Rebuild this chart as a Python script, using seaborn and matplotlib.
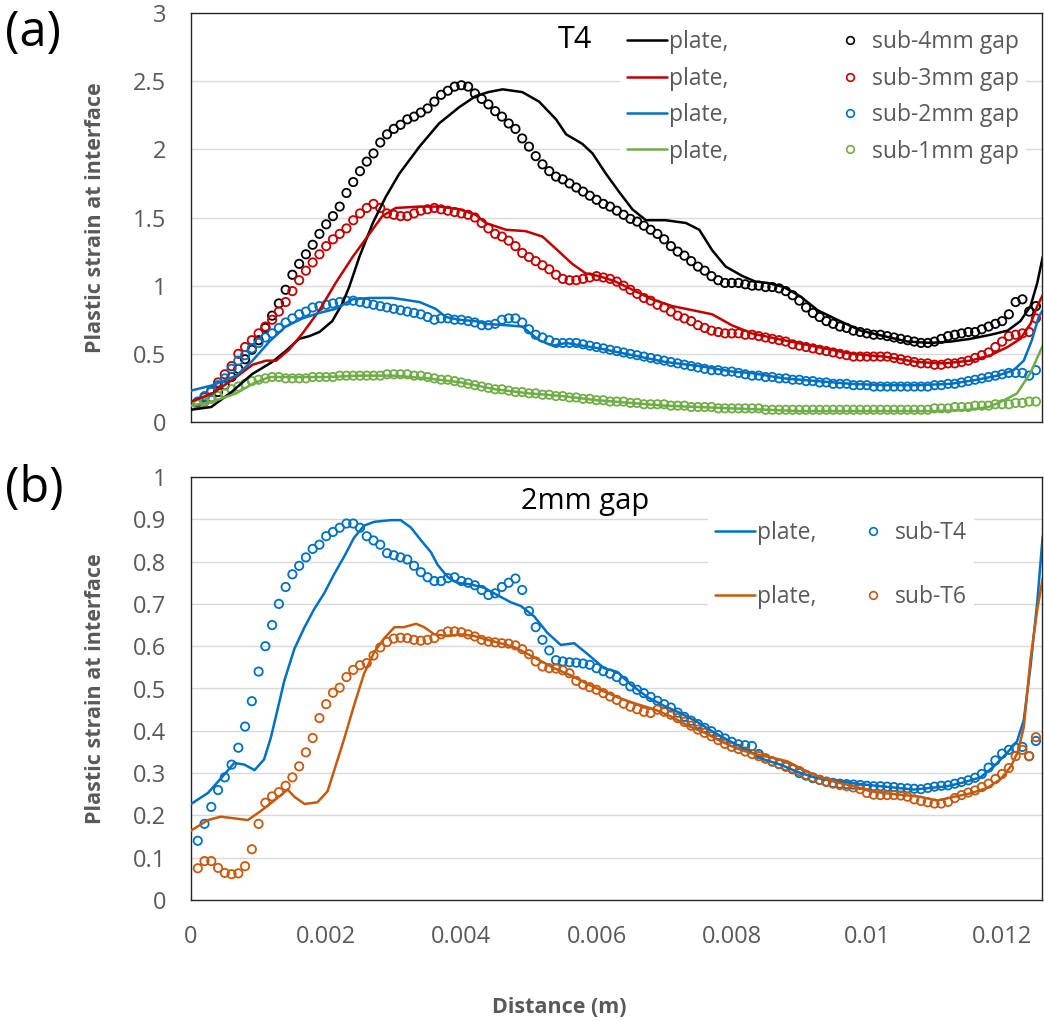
import matplotlib
matplotlib.use("Agg")
import matplotlib.pyplot as plt
import seaborn as sns
from matplotlib.lines import Line2D
from matplotlib.ticker import FuncFormatter, MultipleLocator

# ---------------- data (distances in mm, converted to m below) ----------------
marker_x_mm = [
    0.1, 0.2, 0.3, 0.4, 0.5, 0.6, 0.7, 0.8, 0.9, 1.0,
    1.1, 1.2, 1.3, 1.4, 1.5, 1.6, 1.7, 1.8, 1.9, 2.0,
    2.1, 2.2, 2.3, 2.4, 2.5, 2.6, 2.7, 2.8, 2.9, 3.0,
    3.1, 3.2, 3.3, 3.4, 3.5, 3.6, 3.7, 3.8, 3.9, 4.0,
    4.1, 4.2, 4.3, 4.4, 4.5, 4.6, 4.7, 4.8, 4.9, 5.0,
    5.1, 5.2, 5.3, 5.4, 5.5, 5.6, 5.7, 5.8, 5.9, 6.0,
    6.1, 6.2, 6.3, 6.4, 6.5, 6.6, 6.7, 6.8, 6.9, 7.0,
    7.1, 7.2, 7.3, 7.4, 7.5, 7.6, 7.7, 7.8, 7.9, 8.0,
    8.1, 8.2, 8.3, 8.4, 8.5, 8.6, 8.7, 8.8, 8.9, 9.0,
    9.1, 9.2, 9.3, 9.4, 9.5, 9.6, 9.7, 9.8, 9.9, 10.0,
    10.1, 10.2, 10.3, 10.4, 10.5, 10.6, 10.7, 10.8, 10.9, 11.0,
    11.1, 11.2, 11.3, 11.4, 11.5, 11.6, 11.7, 11.8, 11.9, 12.0,
    12.1, 12.2, 12.3, 12.4, 12.5,
]

# Panel (a) - T4, substrate markers
sub_4mm = [
    0.13, 0.15, 0.18, 0.22, 0.27, 0.33, 0.39, 0.46, 0.53, 0.60,
    0.69, 0.78, 0.87, 0.97, 1.08, 1.16, 1.23, 1.30, 1.38, 1.45,
    1.51, 1.58, 1.68, 1.76, 1.84, 1.91, 1.97, 2.05, 2.11, 2.15,
    2.18, 2.22, 2.24, 2.27, 2.30, 2.35, 2.40, 2.43, 2.46, 2.47,
    2.46, 2.41, 2.37, 2.33, 2.28, 2.24, 2.19, 2.15, 2.08, 2.02,
    1.95, 1.89, 1.84, 1.80, 1.78, 1.75, 1.72, 1.69, 1.66, 1.63,
    1.60, 1.58, 1.55, 1.52, 1.49, 1.47, 1.44, 1.41, 1.38, 1.34,
    1.29, 1.25, 1.22, 1.18, 1.14, 1.11, 1.07, 1.04, 1.02, 1.02,
    1.02, 1.01, 1.00, 1.00, 0.99, 0.99, 0.98, 0.96, 0.93, 0.89,
    0.84, 0.80, 0.77, 0.74, 0.72, 0.70, 0.69, 0.67, 0.66, 0.65,
    0.64, 0.64, 0.63, 0.62, 0.61, 0.60, 0.59, 0.58, 0.58, 0.59,
    0.61, 0.63, 0.64, 0.65, 0.66, 0.66, 0.68, 0.70, 0.72, 0.74,
    0.79, 0.88, 0.90, 0.81, 0.85,
]
sub_3mm = [
    0.14, 0.18, 0.23, 0.29, 0.35, 0.41, 0.50, 0.55, 0.60, 0.65,
    0.70, 0.75, 0.81, 0.88, 0.96, 1.04, 1.11, 1.17, 1.23, 1.29,
    1.34, 1.38, 1.42, 1.48, 1.53, 1.57, 1.60, 1.57, 1.53, 1.52,
    1.51, 1.51, 1.53, 1.55, 1.56, 1.57, 1.56, 1.55, 1.54, 1.53,
    1.52, 1.50, 1.46, 1.42, 1.38, 1.36, 1.33, 1.29, 1.24, 1.21,
    1.18, 1.15, 1.12, 1.08, 1.05, 1.04, 1.04, 1.05, 1.06, 1.07,
    1.06, 1.05, 1.03, 1.00, 0.97, 0.94, 0.91, 0.89, 0.86, 0.84,
    0.81, 0.78, 0.76, 0.74, 0.71, 0.69, 0.67, 0.66, 0.65, 0.65,
    0.65, 0.64, 0.64, 0.63, 0.62, 0.61, 0.60, 0.59, 0.57, 0.56,
    0.55, 0.54, 0.53, 0.52, 0.51, 0.50, 0.49, 0.48, 0.48, 0.48,
    0.48, 0.48, 0.48, 0.47, 0.46, 0.45, 0.44, 0.43, 0.43, 0.42,
    0.42, 0.43, 0.43, 0.44, 0.45, 0.47, 0.49, 0.51, 0.55, 0.59,
    0.63, 0.64, 0.65, 0.66, 0.76,
]
sub_2mm = [
    0.15, 0.19, 0.22, 0.27, 0.32, 0.39, 0.45, 0.49, 0.54, 0.58,
    0.62, 0.65, 0.69, 0.73, 0.76, 0.79, 0.81, 0.84, 0.85, 0.86,
    0.87, 0.88, 0.89, 0.89, 0.88, 0.87, 0.86, 0.85, 0.84, 0.83,
    0.82, 0.81, 0.80, 0.79, 0.77, 0.75, 0.76, 0.76, 0.75, 0.75,
    0.74, 0.73, 0.71, 0.71, 0.72, 0.75, 0.76, 0.76, 0.73, 0.68,
    0.64, 0.62, 0.60, 0.58, 0.58, 0.58, 0.58, 0.57, 0.56, 0.55,
    0.54, 0.53, 0.52, 0.51, 0.50, 0.49, 0.48, 0.47, 0.46, 0.45,
    0.44, 0.43, 0.42, 0.41, 0.40, 0.39, 0.38, 0.38, 0.37, 0.37,
    0.36, 0.35, 0.34, 0.34, 0.33, 0.33, 0.32, 0.32, 0.31, 0.31,
    0.30, 0.30, 0.29, 0.29, 0.28, 0.28, 0.28, 0.27, 0.27, 0.27,
    0.26, 0.26, 0.26, 0.26, 0.26, 0.26, 0.26, 0.26, 0.26, 0.27,
    0.27, 0.28, 0.28, 0.29, 0.30, 0.31, 0.32, 0.33, 0.34, 0.35,
    0.36, 0.36, 0.36, 0.34, 0.38,
]
sub_1mm = [
    0.13, 0.15, 0.17, 0.19, 0.21, 0.24, 0.26, 0.28, 0.30, 0.31,
    0.32, 0.33, 0.33, 0.32, 0.32, 0.32, 0.32, 0.33, 0.33, 0.33,
    0.33, 0.34, 0.34, 0.34, 0.34, 0.34, 0.34, 0.34, 0.35, 0.35,
    0.35, 0.35, 0.34, 0.34, 0.33, 0.32, 0.31, 0.31, 0.30, 0.29,
    0.28, 0.27, 0.26, 0.25, 0.24, 0.24, 0.23, 0.22, 0.22, 0.21,
    0.21, 0.20, 0.20, 0.19, 0.19, 0.18, 0.18, 0.17, 0.17, 0.16,
    0.16, 0.15, 0.15, 0.15, 0.14, 0.14, 0.13, 0.13, 0.13, 0.13,
    0.12, 0.12, 0.12, 0.11, 0.11, 0.11, 0.11, 0.10, 0.10, 0.10,
    0.10, 0.10, 0.10, 0.10, 0.09, 0.09, 0.09, 0.09, 0.09, 0.09,
    0.09, 0.09, 0.09, 0.09, 0.09, 0.09, 0.09, 0.09, 0.09, 0.09,
    0.09, 0.09, 0.09, 0.09, 0.09, 0.09, 0.09, 0.09, 0.09, 0.10,
    0.10, 0.10, 0.11, 0.11, 0.11, 0.12, 0.12, 0.12, 0.13, 0.13,
    0.13, 0.14, 0.14, 0.15, 0.15,
]

# Panel (a) - plate lines
plate4_x = [0, 0.3, 0.6, 0.9, 1.2, 1.4, 1.6, 1.75, 1.9, 2.09,
            2.24, 2.34, 2.49, 2.69, 2.88, 3.08, 3.38, 3.67, 3.97, 4.21,
            4.4, 4.61, 4.9, 5.15, 5.4, 5.55, 5.79, 5.94, 6.14, 6.33,
            6.53, 6.73, 7.02, 7.32, 7.52, 7.71, 7.91, 8.16, 8.35, 8.53,
            8.77, 9.02, 9.27, 9.56, 9.91, 10.25, 10.6, 10.94, 11.24, 11.53,
            11.83, 12.08, 12.27, 12.42, 12.52, 12.6]
plate4_y = [0.09, 0.11, 0.22, 0.35, 0.44, 0.52, 0.61, 0.63, 0.66, 0.74,
            0.87, 0.99, 1.21, 1.46, 1.65, 1.82, 2.02, 2.19, 2.31, 2.39,
            2.42, 2.44, 2.42, 2.35, 2.22, 2.11, 2.04, 1.97, 1.82, 1.69,
            1.56, 1.48, 1.48, 1.46, 1.41, 1.26, 1.14, 1.07, 1.03, 1.02,
            0.99, 0.92, 0.82, 0.75, 0.67, 0.63, 0.59, 0.58, 0.59, 0.61,
            0.64, 0.67, 0.74, 0.85, 1.02, 1.21]
plate3_x = [0, 0.32, 0.67, 0.91, 1.11, 1.26, 1.45, 1.65, 1.9, 2.14,
            2.39, 2.64, 2.83, 3.03, 3.38, 3.67, 3.97, 4.21, 4.36, 4.66,
            4.95, 5.2, 5.4, 5.64, 5.84, 6.04, 6.28, 6.53, 6.82, 7.12,
            7.42, 7.71, 8.0, 8.3, 8.77, 9.27, 9.77, 10.25, 10.74, 11.14,
            11.53, 11.83, 12.08, 12.27, 12.42, 12.52, 12.6]
plate3_y = [0.15, 0.21, 0.33, 0.42, 0.45, 0.45, 0.53, 0.65, 0.82, 1.02,
            1.21, 1.38, 1.51, 1.57, 1.58, 1.58, 1.56, 1.52, 1.46, 1.41,
            1.40, 1.36, 1.27, 1.16, 1.09, 1.07, 1.03, 0.97, 0.90, 0.85,
            0.82, 0.79, 0.71, 0.65, 0.60, 0.55, 0.50, 0.48, 0.44, 0.43,
            0.45, 0.49, 0.55, 0.61, 0.72, 0.85, 0.93]
plate2_x = [0, 0.32, 0.67, 0.91, 1.16, 1.4, 1.65, 1.9, 2.14, 2.39,
            2.64, 2.98, 3.38, 3.62, 3.77, 3.97, 4.21, 4.36, 4.66, 4.9,
            5.15, 5.35, 5.55, 5.79, 6.04, 6.53, 7.02, 7.52, 8.01, 8.28,
            8.77, 9.27, 9.77, 10.25, 10.74, 11.24, 11.63, 11.93, 12.17, 12.32,
            12.44, 12.54, 12.6]
plate2_y = [0.23, 0.27, 0.34, 0.45, 0.59, 0.70, 0.76, 0.80, 0.83, 0.90,
            0.91, 0.91, 0.88, 0.83, 0.77, 0.75, 0.74, 0.72, 0.71, 0.70,
            0.60, 0.56, 0.58, 0.56, 0.54, 0.49, 0.44, 0.41, 0.37, 0.36,
            0.32, 0.30, 0.28, 0.27, 0.27, 0.28, 0.31, 0.34, 0.38, 0.45,
            0.60, 0.77, 0.82]
plate1_x = [0, 0.32, 0.67, 0.91, 1.16, 1.4, 2.0, 2.5, 3.0, 3.5,
            4.0, 4.5, 5.0, 5.5, 6.0, 6.5, 7.0, 7.5, 8.0, 9.0,
            10.0, 11.0, 11.5, 11.8, 12.03, 12.22, 12.42, 12.6]
plate1_y = [0.12, 0.15, 0.21, 0.28, 0.33, 0.33, 0.33, 0.34, 0.34, 0.32,
            0.29, 0.24, 0.21, 0.19, 0.16, 0.14, 0.12, 0.11, 0.10, 0.08,
            0.08, 0.08, 0.09, 0.11, 0.16, 0.21, 0.36, 0.56]

# Panel (b) - 2mm gap, substrate markers
sub_T4 = [
    0.14, 0.18, 0.22, 0.26, 0.29, 0.32, 0.36, 0.41, 0.47, 0.54,
    0.60, 0.65, 0.70, 0.74, 0.77, 0.79, 0.81, 0.83, 0.84, 0.86,
    0.87, 0.88, 0.89, 0.89, 0.88, 0.86, 0.85, 0.84, 0.82, 0.815,
    0.81, 0.805, 0.79, 0.775, 0.763, 0.754, 0.754, 0.761, 0.763, 0.754,
    0.75, 0.744, 0.733, 0.721, 0.725, 0.74, 0.75, 0.76, 0.733, 0.683,
    0.645, 0.615, 0.59, 0.567, 0.564, 0.562, 0.561, 0.559, 0.556, 0.548,
    0.541, 0.535, 0.527, 0.518, 0.505, 0.497, 0.489, 0.48, 0.471, 0.463,
    0.455, 0.443, 0.433, 0.424, 0.416, 0.407, 0.399, 0.39, 0.382, 0.374,
    0.368, 0.366, 0.364, 0.345, 0.335, 0.327, 0.321, 0.315, 0.309, 0.30,
    0.294, 0.288, 0.284, 0.28, 0.277, 0.275, 0.274, 0.273, 0.272, 0.27,
    0.269, 0.269, 0.268, 0.267, 0.265, 0.264, 0.263, 0.262, 0.265, 0.268,
    0.27, 0.271, 0.275, 0.279, 0.283, 0.289, 0.298, 0.313, 0.33, 0.346,
    0.355, 0.36, 0.362, 0.34, 0.376,
]
sub_T6 = [
    0.075, 0.092, 0.092, 0.076, 0.064, 0.061, 0.063, 0.08, 0.12, 0.18,
    0.23, 0.245, 0.255, 0.27, 0.29, 0.316, 0.349, 0.383, 0.43, 0.463,
    0.49, 0.502, 0.527, 0.544, 0.555, 0.56, 0.578, 0.597, 0.61, 0.618,
    0.62, 0.619, 0.615, 0.613, 0.615, 0.619, 0.628, 0.635, 0.635, 0.633,
    0.628, 0.623, 0.615, 0.611, 0.609, 0.607, 0.606, 0.602, 0.593, 0.581,
    0.564, 0.552, 0.548, 0.547, 0.543, 0.536, 0.518, 0.509, 0.503, 0.497,
    0.489, 0.481, 0.473, 0.464, 0.457, 0.451, 0.445, 0.442, 0.45, 0.445,
    0.438, 0.43, 0.421, 0.412, 0.403, 0.395, 0.387, 0.378, 0.369, 0.362,
    0.357, 0.351, 0.345, 0.34, 0.334, 0.328, 0.322, 0.317, 0.311, 0.305,
    0.296, 0.29, 0.284, 0.279, 0.275, 0.272, 0.269, 0.266, 0.262, 0.253,
    0.249, 0.248, 0.248, 0.248, 0.247, 0.244, 0.238, 0.234, 0.231, 0.228,
    0.228, 0.232, 0.241, 0.248, 0.254, 0.259, 0.267, 0.275, 0.286, 0.298,
    0.312, 0.34, 0.355, 0.34, 0.385,
]

# Panel (b) - plate lines
plateT4_x = [0, 0.25, 0.44, 0.64, 0.79, 0.94, 1.08, 1.18, 1.28, 1.38,
             1.53, 1.68, 1.82, 1.97, 2.12, 2.27, 2.41, 2.56, 2.71, 2.96,
             3.1, 3.25, 3.4, 3.55, 3.65, 3.8, 3.94, 4.14, 4.34, 4.53,
             4.73, 4.88, 5.08, 5.27, 5.47, 5.67, 5.87, 6.11, 6.31, 6.5,
             6.75, 7.0, 7.24, 7.49, 7.74, 7.98, 8.23, 8.48, 8.72, 8.97,
             9.22, 9.46, 9.71, 9.96, 10.2, 10.45, 10.69, 10.94, 11.19, 11.43,
             11.68, 11.88, 12.08, 12.22, 12.32, 12.42, 12.52, 12.6]
plateT4_y = [0.227, 0.253, 0.287, 0.324, 0.32, 0.307, 0.332, 0.383, 0.45, 0.518,
             0.594, 0.645, 0.687, 0.725, 0.771, 0.813, 0.856, 0.885, 0.894, 0.898,
             0.898, 0.881, 0.851, 0.822, 0.792, 0.763, 0.75, 0.746, 0.738, 0.721,
             0.704, 0.695, 0.67, 0.632, 0.603, 0.607, 0.581, 0.548, 0.539, 0.51,
             0.48, 0.459, 0.442, 0.421, 0.396, 0.375, 0.354, 0.332, 0.32, 0.303,
             0.29, 0.282, 0.278, 0.273, 0.269, 0.265, 0.261, 0.265, 0.269, 0.278,
             0.29, 0.316, 0.349, 0.375, 0.425, 0.552, 0.704, 0.86]
plateT6_x = [0, 0.25, 0.44, 0.64, 0.84, 1.03, 1.23, 1.43, 1.53, 1.68,
             1.87, 2.02, 2.12, 2.27, 2.41, 2.56, 2.71, 2.86, 3.01, 3.15,
             3.33, 3.45, 3.6, 3.8, 3.99, 4.19, 4.39, 4.58, 4.78, 4.88,
             5.13, 5.37, 5.62, 5.87, 6.11, 6.36, 6.6, 6.85, 7.1, 7.34,
             7.59, 7.84, 8.08, 8.33, 8.58, 8.82, 9.07, 9.31, 9.56, 9.81,
             10.05, 10.3, 10.55, 10.79, 11.04, 11.29, 11.53, 11.78, 11.98, 12.13,
             12.23, 12.32, 12.42, 12.52, 12.6]
plateT6_y = [0.164, 0.189, 0.197, 0.193, 0.189, 0.21, 0.235, 0.261, 0.244, 0.227,
             0.231, 0.257, 0.307, 0.383, 0.459, 0.535, 0.586, 0.619, 0.645, 0.645,
             0.653, 0.645, 0.628, 0.624, 0.628, 0.624, 0.615, 0.607, 0.598, 0.59,
             0.569, 0.548, 0.531, 0.51, 0.493, 0.476, 0.463, 0.451, 0.434, 0.413,
             0.396, 0.375, 0.358, 0.345, 0.337, 0.328, 0.307, 0.29, 0.278, 0.269,
             0.257, 0.252, 0.248, 0.244, 0.235, 0.244, 0.252, 0.265, 0.286, 0.316,
             0.349, 0.408, 0.569, 0.687, 0.76]

labels_a_line = ["plate,", "plate,", "plate,", "plate,"]
labels_a_mark = ["sub-4mm gap", "sub-3mm gap", "sub-2mm gap", "sub-1mm gap"]
labels_b_line = ["plate,", "plate,"]
labels_b_mark = ["sub-T4", "sub-T6"]
x_ticks_b = [0, 0.002, 0.004, 0.006, 0.008, 0.01, 0.012]

# ---------------- style ----------------
BLACK, RED, BLUE, GREEN, ORANGE = "#000000", "#C00000", "#0070C0", "#70AD47", "#C55A11"
GRAY = "#595959"
FONT = ["Open Sans", "DejaVu Sans"]

sns.set_theme(style="white")
plt.rcParams["font.family"] = FONT

W, H = 1044, 1021
fig = plt.figure(figsize=(W / 100, H / 100), dpi=100)

def frac_axes(left, top, right, bottom):
    return fig.add_axes([left / W, 1 - bottom / H, (right - left) / W, (bottom - top) / H])

ax_a = frac_axes(191, 13, 1042, 422)
ax_b = frac_axes(191, 477, 1042, 900)

mx = [v * 1e-3 for v in marker_x_mm]
LW = 1.8
MS = 36
FS = 17

def draw_markers(ax, ys, color):
    sns.scatterplot(x=mx, y=ys, ax=ax, marker="o", s=MS, color=color,
                    facecolor="none", edgecolor=color, linewidth=1.3, zorder=3)

def draw_line(ax, xs, ys, color):
    sns.lineplot(x=[v * 1e-3 for v in xs], y=ys, ax=ax, color=color, linewidth=LW,
                 sort=False, estimator=None, zorder=4)

# Panel (a)
for ys, c in [(sub_4mm, BLACK), (sub_3mm, RED), (sub_2mm, BLUE), (sub_1mm, GREEN)]:
    draw_markers(ax_a, ys, c)
for xs, ys, c in [(plate4_x, plate4_y, BLACK), (plate3_x, plate3_y, RED),
                  (plate2_x, plate2_y, BLUE), (plate1_x, plate1_y, GREEN)]:
    draw_line(ax_a, xs, ys, c)

# Panel (b)
for ys, c in [(sub_T4, BLUE), (sub_T6, ORANGE)]:
    draw_markers(ax_b, ys, c)
for xs, ys, c in [(plateT4_x, plateT4_y, BLUE), (plateT6_x, plateT6_y, ORANGE)]:
    draw_line(ax_b, xs, ys, c)

fmt = FuncFormatter(lambda v, p: f"{v:g}")
for ax, ymax, ystep in [(ax_a, 3, 0.5), (ax_b, 1, 0.1)]:
    ax.set_xlim(0, 0.01259)
    ax.set_ylim(0, ymax)
    ax.xaxis.set_major_locator(MultipleLocator(0.002))
    ax.yaxis.set_major_locator(MultipleLocator(ystep))
    ax.xaxis.set_major_formatter(fmt)
    ax.yaxis.set_major_formatter(fmt)
    ax.set_axisbelow(True)
    ax.yaxis.grid(True, color="#d9d9d9", linewidth=1.0)
    ax.xaxis.grid(False)
    for s in ax.spines.values():
        s.set_visible(True)
        s.set_color("#262626")
        s.set_linewidth(1.0)
    ax.tick_params(axis="both", length=0, labelsize=FS, labelcolor=GRAY, pad=18)
    ax.set_ylabel("Plastic strain at interface", fontsize=15.5, fontweight="bold",
                  color=GRAY)
    ax.yaxis.set_label_coords(-0.1, 0.5)
    ax.set_xlabel("")

ax_a.tick_params(axis="x", labelbottom=False)
ax_b.set_xticks(x_ticks_b)
ax_b.set_xlabel("Distance (m)", fontsize=15.5, fontweight="bold", color=GRAY)
ax_b.xaxis.set_label_coords((559 - 191) / 851, -(997 - 900) / 423)

# Legends
def make_legend(ax, line_colors, line_labels, mark_labels, anchor, labelspacing, colspacing):
    handles = [Line2D([], [], color=c, lw=LW) for c in line_colors]
    handles += [Line2D([], [], ls="none", marker="o", ms=5.5, mfc="none", mec=c, mew=1.2)
                for c in line_colors]
    leg = ax.legend(handles, list(line_labels) + list(mark_labels), ncol=2,
                    loc="upper left", bbox_to_anchor=anchor, bbox_transform=ax.transAxes,
                    borderaxespad=0, frameon=True, fancybox=False, framealpha=1,
                    facecolor="white", edgecolor="none", fontsize=16.5,
                    handlelength=1.75, handletextpad=0.1, borderpad=0.3,
                    labelspacing=labelspacing, columnspacing=colspacing)
    for t in leg.get_texts():
        t.set_color(GRAY)
    leg.set_zorder(5)
    return leg

make_legend(ax_a, [BLACK, RED, BLUE, GREEN], labels_a_line, labels_a_mark,
            ((620 - 191) / 851, (422 - 23.5) / 409), 0.54, 4.4)
make_legend(ax_b, [BLUE, ORANGE], labels_b_line, labels_b_mark,
            ((708 - 191) / 851, (900 - 514) / 423), 1.75, 1.57)

# Titles inside panels
ax_a.text((575 - 191) / 851, (422 - 40) / 409, "T4", transform=ax_a.transAxes,
          ha="center", va="center", fontsize=22, color="black", zorder=6)
ax_b.text((585 - 191) / 851, (900 - 502) / 423, "2mm gap", transform=ax_b.transAxes,
          ha="center", va="center", fontsize=21, color="black", zorder=6)

# Panel letters
fig.text(5 / W, 1 - 33 / H, "(a)", ha="left", va="center", fontsize=35, color="black")
fig.text(5 / W, 1 - 489 / H, "(b)", ha="left", va="center", fontsize=35, color="black")

fig.savefig("out.png", dpi=100, facecolor="white")
